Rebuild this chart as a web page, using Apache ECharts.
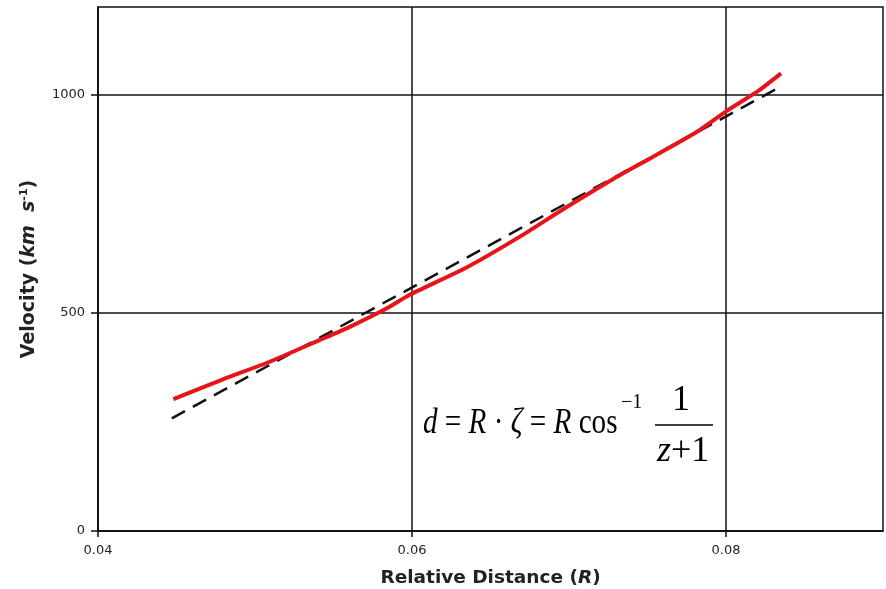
<!DOCTYPE html>
<html>
<head>
<meta charset="utf-8">
<script src="https://cdn.jsdelivr.net/npm/echarts@6/dist/echarts.min.js"></script>
<style>
  html, body { margin: 0; padding: 0; background: #fff; }
  #main { width: 886px; height: 589px; }
</style>
</head>
<body>
<div id="main"></div>
<script>
// measured curve (relative distance R, velocity km/s)
var measuredR = [0.0448, 0.0480, 0.0509, 0.0541, 0.0560, 0.0584, 0.0598, 0.0635, 0.0670, 0.0698, 0.0730, 0.0753, 0.0781, 0.0800, 0.0821, 0.0835];
var measuredV = [302, 348, 387, 437, 467, 510, 540, 604, 677, 741, 810, 856, 913, 961, 1009, 1048];
// linear fit (dashed)
var fitR = [0.0447, 0.0835];
var fitV = [258, 1018];
var xTicks = [0.04, 0.06, 0.08];
var yTicks = [0, 500, 1000];

function pairs(xs, ys) {
    return xs.map(function (x, i) { return [x, ys[i]]; });
}

var serifIt = { fontFamily: 'Liberation Serif', fontStyle: 'italic', fontSize: 36, fill: '#000' };
var myChart = echarts.init(document.getElementById('main'));
var option = {
    animation: false,
    grid: {
        left: 98, right: 3, top: 7, bottom: 58,
        outerBoundsMode: 'none',
        containLabel: false,
        show: true, borderColor: '#111', borderWidth: 1.5
    },
    xAxis: {
        type: 'value',
        min: 0.04, max: 0.09, interval: 0.02,
        name: 'Relative Distance ({i|R})',
        nameLocation: 'middle',
        nameGap: 38,
        nameTextStyle: {
            fontFamily: 'DejaVu Sans', fontWeight: 'bold', fontSize: 18.5, color: '#222',
            rich: { i: { fontFamily: 'DejaVu Sans', fontWeight: 'bold', fontStyle: 'italic', fontSize: 18.5, color: '#222' } }
        },
        axisLine: { show: true, onZero: false, lineStyle: { color: '#111', width: 1.5 } },
        axisTick: { show: true, inside: false, length: 6, customValues: xTicks, lineStyle: { color: '#111', width: 1.5 } },
        axisLabel: {
            customValues: xTicks, fontFamily: 'DejaVu Sans', fontSize: 13, color: '#222', margin: 13,
            formatter: function (v) { return v.toFixed(2); }
        },
        splitLine: { show: true, lineStyle: { color: '#111', width: 1.5 } }
    },
    yAxis: {
        type: 'value',
        min: 0, max: 1200, interval: 500,
        name: 'Velocity ({i|km  s}{s|-1})',
        nameLocation: 'middle',
        nameGap: 58,
        nameTextStyle: {
            fontFamily: 'DejaVu Sans', fontWeight: 'bold', fontSize: 19, color: '#222',
            rich: {
                i: { fontFamily: 'DejaVu Sans', fontWeight: 'bold', fontStyle: 'italic', fontSize: 19, color: '#222' },
                s: { fontFamily: 'DejaVu Sans', fontWeight: 'bold', fontSize: 11, color: '#222', verticalAlign: 'top', padding: [0, 0, 10, 0] }
            }
        },
        axisLine: { show: true, onZero: false, lineStyle: { color: '#111', width: 1.5 } },
        axisTick: { show: true, inside: false, length: 7, customValues: yTicks, lineStyle: { color: '#111', width: 1.5 } },
        axisLabel: {
            customValues: yTicks, fontFamily: 'DejaVu Sans', fontSize: 13, color: '#222', margin: 13,
            formatter: function (v) { return String(v); }
        },
        splitLine: { show: true, lineStyle: { color: '#111', width: 1.5 } }
    },
    series: [
        {
            name: 'fit', type: 'line',
            data: pairs(fitR, fitV),
            showSymbol: false,
            lineStyle: { color: '#111', width: 2.5, type: [15, 9] },
            z: 3
        },
        {
            name: 'measured', type: 'line',
            data: pairs(measuredR, measuredV),
            showSymbol: false,
            smooth: 0.2,
            lineStyle: { color: '#e8141a', width: 4 },
            z: 4
        }
    ],
    graphic: [
        {
            // left side of the formula, squeezed a little horizontally like the original image
            type: 'text', x: 423, y: 406, scaleX: 0.81,
            style: {
                text: '{i|d} = {i|R} · {i|ζ} = {i|R} cos',
                fontFamily: 'Liberation Serif', fontSize: 36, fill: '#000',
                verticalAlign: 'top',
                rich: { i: serifIt }
            }
        },
        {
            type: 'text', left: 621, top: 393,
            style: { text: '−1', fontFamily: 'Liberation Serif', fontSize: 20, fill: '#000' }
        },
        {
            type: 'text', left: 672, top: 383,
            style: { text: '1', fontFamily: 'Liberation Serif', fontSize: 36, fill: '#000' }
        },
        {
            type: 'line',
            shape: { x1: 655, y1: 425, x2: 713, y2: 425 },
            style: { stroke: '#000', lineWidth: 1.5 }
        },
        {
            type: 'text', left: 657, top: 434,
            style: {
                text: '{i|z}+1',
                fontFamily: 'Liberation Serif', fontSize: 36, fill: '#000',
                rich: { i: serifIt }
            }
        }
    ]
};
myChart.setOption(option);
</script>
</body>
</html>
